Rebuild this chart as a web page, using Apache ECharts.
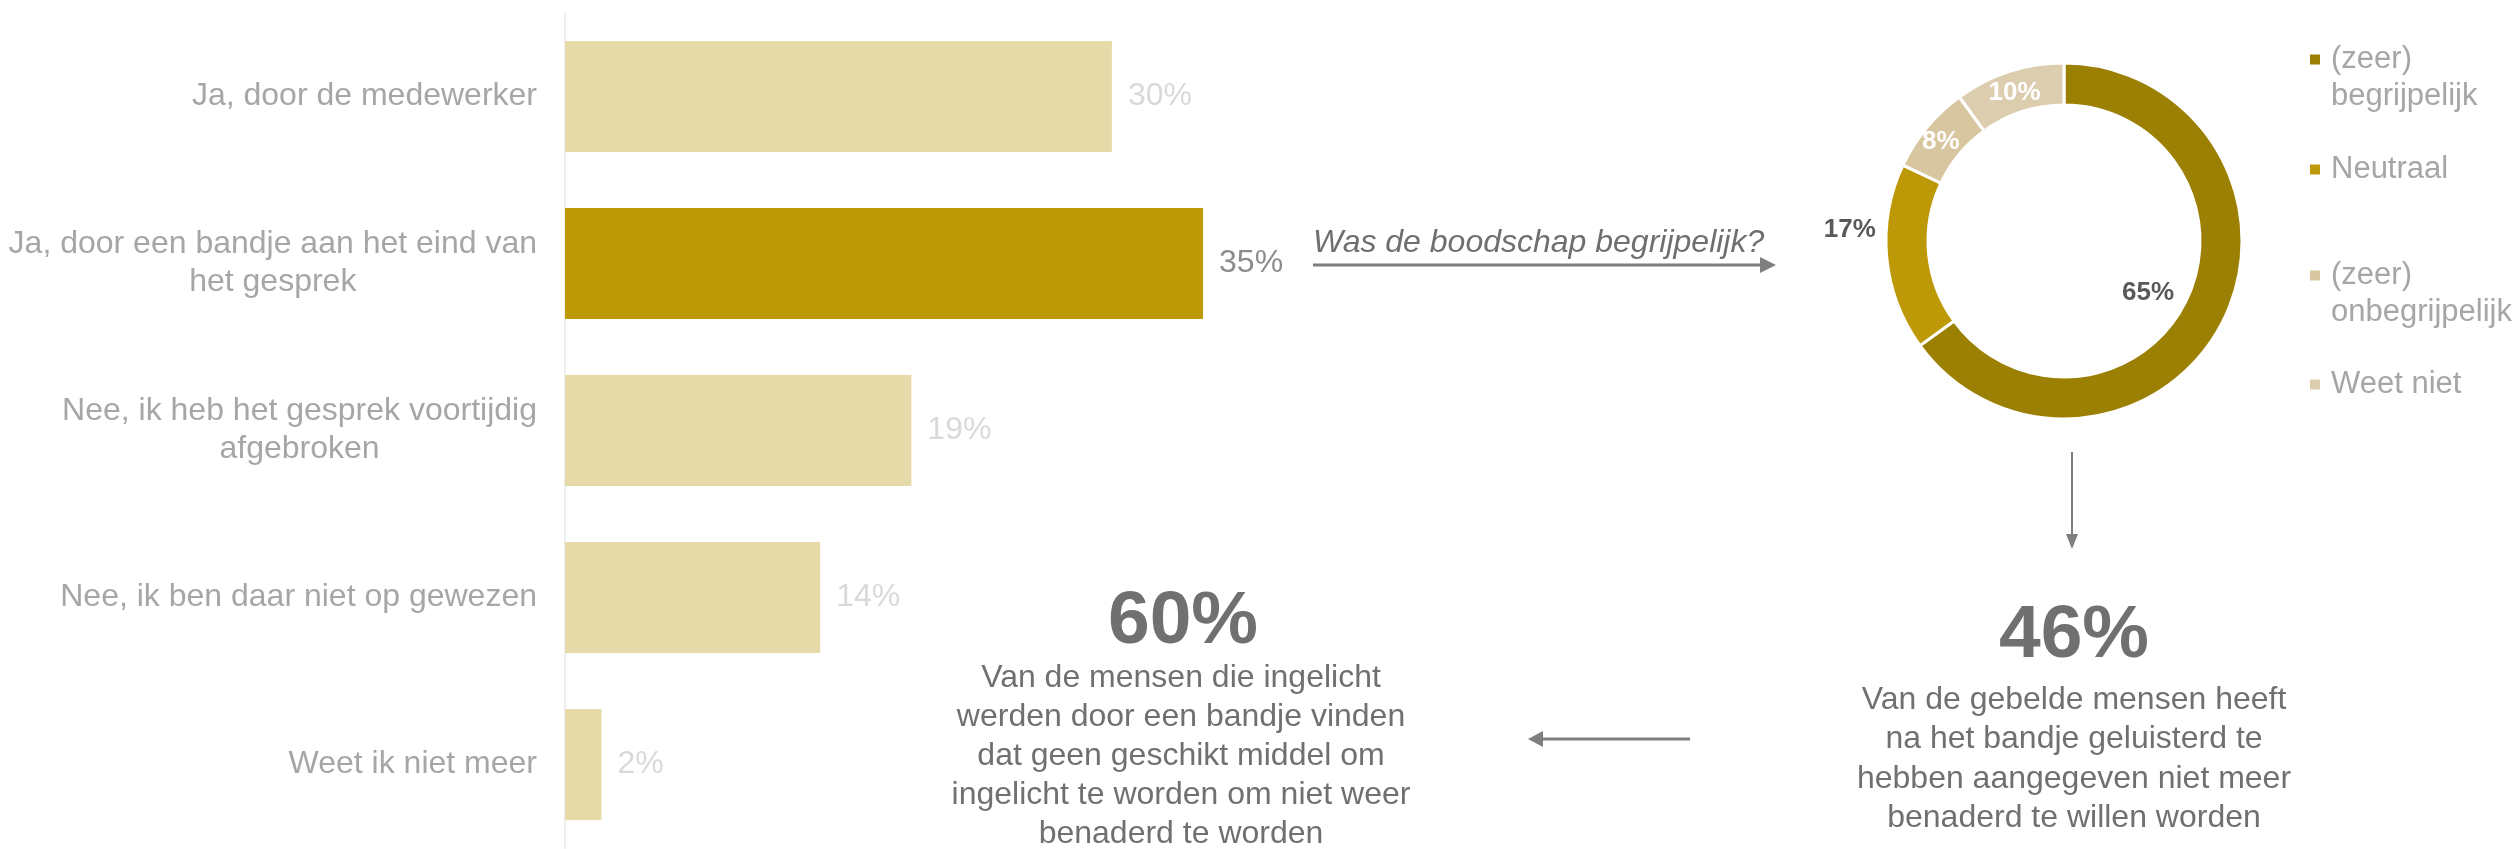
<!DOCTYPE html>
<html>
<head>
<meta charset="utf-8">
<script src="https://cdn.jsdelivr.net/npm/echarts@6/dist/echarts.min.js"></script>
<style>
  html, body { margin: 0; padding: 0; background: #fff; }
  #chart { width: 2519px; height: 849px; }
</style>
</head>
<body>
<div id="chart"></div>
<script>
// antwoorden (staafdiagram)
const categories = [
  'Ja, door de medewerker',
  'Ja, door een bandje aan het eind van\nhet gesprek',
  'Nee, ik heb het gesprek voortijdig\nafgebroken',
  'Nee, ik ben daar niet op gewezen',
  'Weet ik niet meer'
];
const shares = [30, 35, 19, 14, 2];
const highlightIndex = 1;

// donut: was de boodschap begrijpelijk?
const donutNames = ['(zeer)\nbegrijpelijk', 'Neutraal', '(zeer)\nonbegrijpelijk', 'Weet niet'];
const donutValues = [65, 17, 8, 10];

// kerncijfers
const keyFigures = ['46%', '60%'];
const keyTexts = [
  'Van de gebelde mensen heeft\nna het bandje geluisterd te\nhebben aangegeven niet meer\nbenaderd te willen worden',
  'Van de mensen die ingelicht\nwerden door een bandje vinden\ndat geen geschikt middel om\ningelicht te worden om niet weer\nbenaderd te worden'
];
const question = 'Was de boodschap begrijpelijk?';

const barLight = '#e6dba8';
const barDark = '#bd9908';
const donutColors = ['#9c8004', '#bd9908', '#d8c6a0', '#dccdae'];
const font = '"Liberation Sans", Arial, sans-serif';

const chart = echarts.init(document.getElementById('chart'));

// losse legenda's, zodat elk item op zijn eigen hoogte staat
const legendTops = [4, 151, 220, 366];
const legends = donutNames.map((n, i) => ({
  data: [n],
  orient: 'vertical',
  left: 2308,
  top: legendTops[i],
  padding: 0,
  icon: 'rect',
  itemWidth: 12,
  itemHeight: 12,
  selectedMode: false,
  formatter: (name) => name.split('\n').map((l) => '{t|' + l + '}').join('\n'),
  textStyle: {
    color: '#a6a6a6',
    fontSize: 31,
    lineHeight: 37,
    fontFamily: font,
    padding: n.indexOf('\n') >= 0 ? [37, 0, 0, 5] : [0, 0, 0, 5],
    rich: { t: { color: '#a6a6a6', fontSize: 31, lineHeight: 37, fontFamily: font } }
  }
}));

const pieLabels = [
  { position: 'center', color: '#595959', padding: [104, 0, 0, 168] },
  { position: 'outside', color: '#595959', padding: [0, 0, 56, 0] },
  { position: 'inside', color: '#ffffff', padding: [6, 0, 0, 0] },
  { position: 'inside', color: '#ffffff', padding: [8, 0, 0, 0] }
];

const options = {
  animation: false,
  textStyle: { fontFamily: font },
  legend: legends,
  grid: {
    left: 565,
    top: 13,
    width: 1823,
    height: 835,
    containLabel: false
  },
  xAxis: {
    type: 'value',
    min: 0,
    max: 100,
    show: false
  },
  yAxis: {
    type: 'category',
    inverse: true,
    data: categories,
    axisLine: { show: true, lineStyle: { color: '#eeeeee', width: 2 } },
    axisTick: { show: false },
    axisLabel: {
      margin: 28,
      color: '#a6a6a6',
      fontSize: 32,
      lineHeight: 38,
      formatter: (v) => v.split('\n').map((l) => '{c|' + l + '}').join('\n'),
      rich: {
        c: { align: 'center', color: '#a6a6a6', fontSize: 32, lineHeight: 38, fontFamily: font }
      }
    },
    splitLine: { show: false }
  },
  series: [
    {
      name: 'Antwoord',
      type: 'bar',
      barCategoryGap: '33.5%',
      data: shares.map((v, i) => ({
        value: v,
        itemStyle: { color: i === highlightIndex ? barDark : barLight },
        label: { color: i === highlightIndex ? '#8c8c8c' : '#d9d9d9' }
      })),
      label: {
        show: true,
        position: 'right',
        distance: 16,
        fontSize: 32,
        formatter: '{c}%'
      }
    },
    {
      name: 'Begrijpelijk',
      type: 'pie',
      center: [2064, 241],
      radius: [136, 178],
      startAngle: 90,
      clockwise: true,
      avoidLabelOverlap: false,
      itemStyle: { borderColor: '#ffffff', borderWidth: 3 },
      labelLine: { show: false, length: 6, length2: 0 },
      label: {
        show: true,
        fontSize: 26,
        fontWeight: 'bold',
        formatter: '{v|{c}%}',
        rich: { v: {} }
      },
      data: donutValues.map((v, i) => ({
        name: donutNames[i],
        value: v,
        itemStyle: { color: donutColors[i] },
        label: pieLabels[i]
      }))
    }
  ],
  graphic: [
    {
      type: 'text',
      style: {
        text: question, x: 1313, y: 243,
        font: 'italic 32px ' + font, fill: '#6f6f6f',
        align: 'left', verticalAlign: 'middle'
      }
    },
    { type: 'line', shape: { x1: 1313, y1: 265, x2: 1762, y2: 265 }, style: { stroke: '#7f7f7f', lineWidth: 3 } },
    { type: 'polygon', shape: { points: [[1760, 257], [1776, 265], [1760, 273]] }, style: { fill: '#7f7f7f' } },
    { type: 'line', shape: { x1: 2072, y1: 452, x2: 2072, y2: 536 }, style: { stroke: '#7f7f7f', lineWidth: 2 } },
    { type: 'polygon', shape: { points: [[2066, 534], [2072, 549], [2078, 534]] }, style: { fill: '#7f7f7f' } },
    { type: 'line', shape: { x1: 1540, y1: 739, x2: 1690, y2: 739 }, style: { stroke: '#7f7f7f', lineWidth: 3 } },
    { type: 'polygon', shape: { points: [[1528, 739], [1543, 731], [1543, 747]] }, style: { fill: '#7f7f7f' } },
    {
      type: 'text',
      style: {
        text: keyFigures[0], x: 2074, y: 636,
        font: 'bold 75px ' + font, fill: '#707070',
        align: 'center', verticalAlign: 'middle'
      }
    },
    {
      type: 'text',
      style: {
        text: keyTexts[0], x: 2074, y: 680,
        font: '32px ' + font, lineHeight: 39.5, fill: '#707070',
        align: 'center', verticalAlign: 'top'
      }
    },
    {
      type: 'text',
      style: {
        text: keyFigures[1], x: 1183, y: 622,
        font: 'bold 75px ' + font, fill: '#707070',
        align: 'center', verticalAlign: 'middle'
      }
    },
    {
      type: 'text',
      style: {
        text: keyTexts[1], x: 1181, y: 659,
        font: '32px ' + font, lineHeight: 39, fill: '#707070',
        align: 'center', verticalAlign: 'top'
      }
    }
  ]
};

chart.setOption(options);
</script>
</body>
</html>
